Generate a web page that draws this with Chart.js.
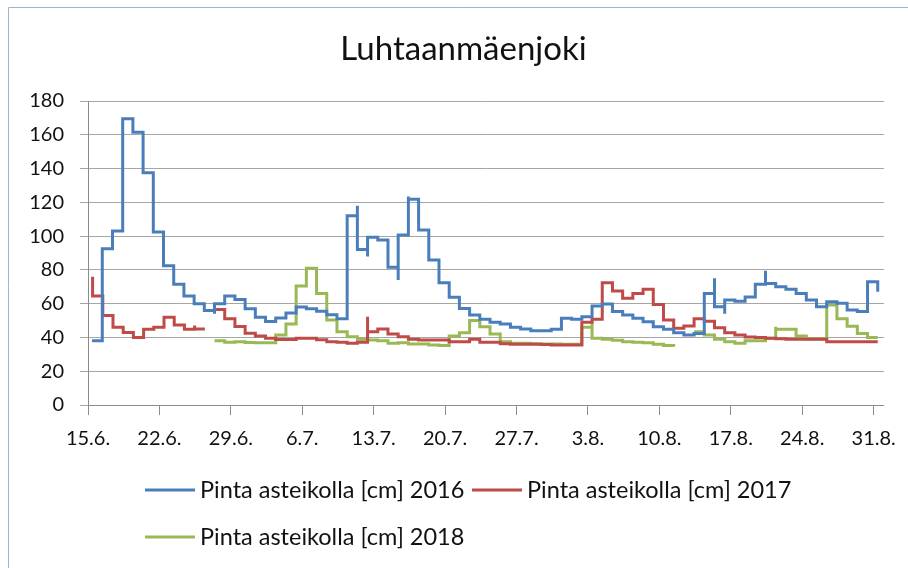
<!DOCTYPE html>
<html>
<head>
<meta charset="utf-8">
<script src="https://cdn.jsdelivr.net/npm/chart.js@4/dist/chart.umd.min.js"></script>
<style>
  html, body { margin: 0; padding: 0; background: #fff; }
  #wrap { position: relative; width: 908px; height: 568px; }
</style>
</head>
<body>
<div id="wrap"><canvas id="c" width="908" height="568"></canvas></div>
<script>
// Water level on the gauge, one reading per day (days counted from 15.6.)
const tickLabels = ['15.6.', '22.6.', '29.6.', '6.7.', '13.7.', '20.7.', '27.7.', '3.8.', '10.8.', '17.8.', '24.8.', '31.8.'];
const seriesNames = ['Pinta asteikolla [cm] 2016', 'Pinta asteikolla [cm] 2017', 'Pinta asteikolla [cm] 2018'];
const seriesColors = ['#4A7EBB', '#BE4B48', '#98B954'];

// 2016
const start2016 = 0.4;
const level2016 = [38, 92.5, 103, 169.5, 161.5, 137.5, 102.5, 82.5, 71.5, 64.5,
  60, 56, 60, 64.5, 62.5, 57, 52, 49.5, 51.5, 54.5,
  58, 57, 55.5, 53.5, 51, 112, 92, 99.3, 97.7, 81.5,
  100.6, 121.8, 103.6, 85.8, 72.4, 63.8, 57.2, 53.3, 50.7, 49,
  48, 46, 45, 44, 44, 44.8, 51.3, 50.7, 52.3, 58.6,
  59.8, 55.3, 53.3, 51.3, 49.3, 46.4, 44.8, 42.8, 41.4, 42.4,
  66, 58.2, 62.2, 61.5, 64, 71.5, 72, 70, 68.5, 66,
  62.2, 58.2, 61.2, 60.2, 56.2, 55.3, 73, 67];
// short-lived readings at the start of a day: [day index, level]
const peaks2016 = [[12, 54], [26, 118], [27, 88], [30, 74], [31, 123.5], [61, 75], [62, 54], [66, 79.5]];

// 2017 (two measuring periods)
const startA2017 = 0.45;
const levelA2017 = [64.5, 53, 46, 43, 40, 44.8, 46, 52, 47.4, 44.8, 45, 45];
const peaksA2017 = [[0, 76], [10, 47]];
const startB2017 = 12.4;
const levelB2017 = [56.5, 51, 46.5, 42.5, 40.9, 39.5, 38.8, 38.8, 39.5, 39.5,
  38.7, 37.5, 37.1, 36.5, 37.2, 43.4, 45, 42, 40.4, 38.9,
  38.5, 38.5, 38.5, 37.5, 37.5, 38.9, 37.1, 37.1, 36.3, 36,
  36, 36, 35.8, 35.5, 35.5, 35.5, 49, 50.7, 72.4, 67.5,
  63.2, 66, 68.5, 59.5, 50.3, 45.4, 46.8, 51, 49.6, 45.8,
  42.8, 41.4, 40.2, 39.9, 39.5, 39.2, 39, 39, 39, 38.9,
  37.5, 37.5, 37.5, 37.5, 37.5, 37.5];
const peaksB2017 = [[15, 52.3]];

// 2018 (two measuring periods)
const startA2018 = 12.4;
const levelA2018 = [38, 37.2, 37.5, 37, 36.8, 36.8, 41.4, 48, 70.5, 81,
  66, 50.3, 43.4, 40.4, 38.9, 38.5, 38.1, 36.5, 36.9, 36.1,
  36.1, 35.5, 35.3, 40.9, 42.8, 50, 46.4, 42, 37.5, 36.5,
  36.5, 36.2, 36.1, 36.1, 36, 36, 46, 39.5, 39, 38.3,
  37.5, 37.2, 36.8, 36, 35.3, 34.5];
const peaksA2018 = [[37, 50]];
const startB2018 = 59.4;
const levelB2018 = [43.4, 41.4, 39, 37.5, 36.5, 38.1, 38.1, 39.5, 44.8, 44.8,
  40.9, 39.3, 39.3, 59.2, 51, 46.6, 42.4, 40, 40];
const peaksB2018 = [[8, 46.4], [14, 61.2]];

const yTicks = [0, 20, 40, 60, 80, 100, 120, 140, 160, 180];
const daysPerTick = 7;

// Turn one measuring period into step points; each level holds until the next reading.
function trace(start, levels, peaks) {
  const pts = [];
  levels.forEach((v, i) => {
    const t = start + i;
    peaks.filter(p => p[0] === i).forEach(p => pts.push({ x: t, y: p[1] }));
    pts.push({ x: t, y: v });
  });
  return pts;
}
function joinPeriods(...periods) {
  const out = [];
  periods.forEach((p, k) => {
    if (k > 0) out.push({ x: (out[out.length - 1].x + p[0].x) / 2, y: null });
    out.push(...p);
  });
  return out;
}

const data2016 = trace(start2016, level2016, peaks2016);
const data2017 = joinPeriods(trace(startA2017, levelA2017, peaksA2017), trace(startB2017, levelB2017, peaksB2017));
const data2018 = joinPeriods(trace(startA2018, levelA2018, peaksA2018), trace(startB2018, levelB2018, peaksB2018));

const FONT = 'Lato, "Open Sans", sans-serif';
const TEXT = '#111111';

// Legend laid out in fixed columns under the plot
const legendGrid = { left: 145, top: 490, colWidth: 327, rowHeight: 47, cols: 2, swatch: 50, gap: 5 };
const gridLegend = {
  id: 'gridLegend',
  afterDraw(chart) {
    const ctx = chart.ctx;
    ctx.save();
    ctx.font = '23.5px ' + FONT;
    ctx.textBaseline = 'middle';
    ctx.textAlign = 'left';
    chart.data.datasets.forEach((ds, i) => {
      const col = i % legendGrid.cols, row = Math.floor(i / legendGrid.cols);
      const x = legendGrid.left + col * legendGrid.colWidth;
      const y = legendGrid.top + row * legendGrid.rowHeight;
      ctx.strokeStyle = ds.borderColor;
      ctx.lineWidth = 3;
      ctx.beginPath();
      ctx.moveTo(x, y);
      ctx.lineTo(x + legendGrid.swatch, y);
      ctx.stroke();
      ctx.fillStyle = TEXT;
      ctx.fillText(ds.label, x + legendGrid.swatch + legendGrid.gap, y);
    });
    ctx.restore();
  }
};
// Thin frame along the top and left edges of the chart box
const frame = {
  id: 'frame',
  beforeDraw(chart) {
    const ctx = chart.ctx;
    ctx.save();
    ctx.strokeStyle = '#9db3cf';
    ctx.lineWidth = 1;
    ctx.beginPath();
    ctx.moveTo(8.5, chart.height);
    ctx.lineTo(8.5, 7.5);
    ctx.lineTo(chart.width, 7.5);
    ctx.stroke();
    ctx.restore();
  }
};
// Centre the title over the framed box rather than the whole canvas
const titleOffset = {
  id: 'titleOffset',
  afterLayout(chart) {
    if (chart.titleBlock) chart.titleBlock.left = 36;
  }
};

new Chart(document.getElementById('c'), {
  type: 'line',
  data: {
    datasets: [
      { label: seriesNames[0], data: data2016, borderColor: seriesColors[0] },
      { label: seriesNames[1], data: data2017, borderColor: seriesColors[1] },
      { label: seriesNames[2], data: data2018, borderColor: seriesColors[2] }
    ].map(d => Object.assign(d, { stepped: true, borderWidth: 3, pointRadius: 0, fill: false, spanGaps: false, backgroundColor: d.borderColor }))
  },
  options: {
    responsive: false,
    animation: false,
    layout: { padding: { left: 0, right: 17, top: 0, bottom: 103 } },
    plugins: {
      legend: { display: false },
      tooltip: { enabled: false },
      title: {
        display: true,
        text: 'Luhtaanmäenjoki',
        color: TEXT,
        font: { family: FONT, size: 33, weight: 'normal', lineHeight: 1.2 },
        padding: { top: 30, bottom: 31.4 }
      }
    },
    scales: {
      x: {
        type: 'linear',
        min: 0,
        max: 78,
        afterFit(s) { s.height = 60; },
        afterBuildTicks(s) { s.ticks = tickLabels.map((_, i) => ({ value: i * daysPerTick })); },
        ticks: {
          autoSkip: false,
          maxRotation: 0,
          padding: 12,
          color: TEXT,
          font: { family: FONT, size: 20 },
          callback: v => tickLabels[Math.round(v / daysPerTick)]
        },
        grid: { drawOnChartArea: false, drawTicks: true, tickLength: 10, color: '#8c8c8c' },
        border: { color: '#8c8c8c', width: 1 }
      },
      y: {
        min: 0,
        max: 180,
        afterFit(s) { s.width = 88; },
        afterBuildTicks(s) { s.ticks = yTicks.map(v => ({ value: v })); },
        ticks: { padding: 16, color: TEXT, font: { family: FONT, size: 20 } },
        grid: { color: '#a6a6a6', tickLength: 8 },
        border: { color: '#8c8c8c', width: 1 }
      }
    }
  },
  plugins: [frame, titleOffset, gridLegend]
});
</script>
</body>
</html>
